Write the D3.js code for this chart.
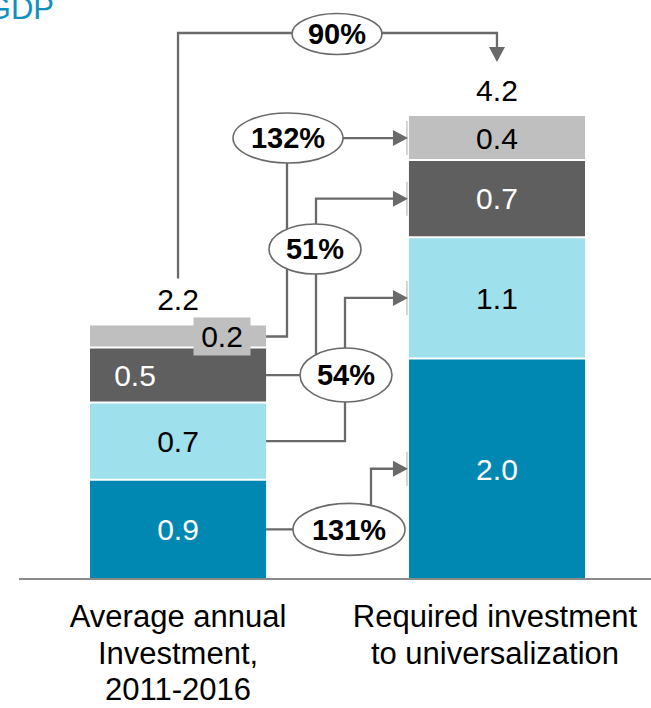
<!DOCTYPE html>
<html>
<head>
<meta charset="utf-8">
<script src="https://cdn.jsdelivr.net/npm/d3@7"></script>
<style>
  html, body { margin: 0; padding: 0; background: #ffffff; }
  svg { display: block; font-family: "Liberation Sans", Arial, sans-serif; }
</style>
</head>
<body>
<svg id="chart" width="651" height="708"></svg>
<script>
// Investment, % of GDP: current average vs. required for universal coverage
const categories = ["Average annual|Investment,|2011-2016", "Required investment|to universalization"];
const segmentNames = ["Segment A", "Segment B", "Segment C", "Segment D"]; // bottom to top
const averageValues = [0.9, 0.7, 0.5, 0.2];
const requiredValues = [2.0, 1.1, 0.7, 0.4];
const totalLabels = ["2.2", "4.2"];
const growthLabels = ["131%", "54%", "51%", "132%"]; // per segment
const totalGrowthLabel = "90%";
const unitLabel = "GDP";

// Styling
const segmentColors = ["#0088b3", "#9ee0ec", "#5f5f5f", "#bfbfbf"];
const avgTextColors = ["#ffffff", "#000000", "#ffffff", "#000000"];
const reqTextColors = ["#ffffff", "#000000", "#ffffff", "#000000"];
const lineColor = "#6a6a6a";

const svg = d3.select("#chart");
const baseline = 579;

const x = d3.scaleBand().domain(categories).range([90, 585]).paddingInner(0.448).paddingOuter(0);
const y = d3.scaleLinear().domain([0, 4.2]).range([baseline, 116]);
const bw = x.bandwidth();

function stackOf(values) {
  let acc = 0;
  return values.map((v, i) => {
    const s = { i, v, y0: acc, y1: acc + v };
    acc += v;
    return s;
  });
}
const stacks = [stackOf(averageValues), stackOf(requiredValues)];
const textColors = [avgTextColors, reqTextColors];

// Unit title (runs past the left edge of the canvas)
svg.append("text")
  .attr("x", 54).attr("y", 19)
  .attr("text-anchor", "end")
  .attr("font-size", 31)
  .attr("fill", "#1190bd")
  .text(unitLabel);

// Bars
categories.forEach((cat, ci) => {
  const g = svg.append("g");
  const x0 = x(cat);
  g.selectAll("rect")
    .data(stacks[ci])
    .join("rect")
    .attr("x", x0)
    .attr("width", bw)
    .attr("y", d => y(d.y1))
    .attr("height", d => y(d.y0) - y(d.y1))
    .attr("fill", d => segmentColors[d.i]);
  // white separators between segments
  g.selectAll("line.sep")
    .data(stacks[ci].slice(0, -1))
    .join("line")
    .attr("class", "sep")
    .attr("x1", x0).attr("x2", x0 + bw)
    .attr("y1", d => y(d.y1)).attr("y2", d => y(d.y1))
    .attr("stroke", "#ffffff").attr("stroke-width", 2);
});

// Segment value labels
const fmt = d3.format(".1f");
categories.forEach((cat, ci) => {
  const cx = x(cat) + bw / 2;
  stacks[ci].forEach(d => {
    const cy = (y(d.y0) + y(d.y1)) / 2;
    let tx = cx;
    if (ci === 0 && d.i === 2) tx = x(cat) + 45;
    if (ci === 0 && d.i === 3) {
      tx = x(cat) + 132;
      svg.append("rect")
        .attr("x", tx - 28.5).attr("y", cy - 19)
        .attr("width", 57).attr("height", 38)
        .attr("fill", segmentColors[3]);
    }
    svg.append("text")
      .attr("x", tx).attr("y", cy)
      .attr("dy", "0.36em")
      .attr("text-anchor", "middle")
      .attr("font-size", 30)
      .attr("fill", textColors[ci][d.i])
      .text(fmt(d.v));
  });
});

// Totals above bars
const totals = [d3.sum(averageValues), d3.sum(requiredValues)];
categories.forEach((cat, ci) => {
  svg.append("text")
    .attr("x", x(cat) + bw / 2)
    .attr("y", y(totals[ci]) - 15)
    .attr("text-anchor", "middle")
    .attr("font-size", 30)
    .attr("fill", "#000000")
    .text(totalLabels[ci]);
});

// Baseline
svg.append("line")
  .attr("x1", 19).attr("x2", 651)
  .attr("y1", baseline).attr("y2", baseline)
  .attr("stroke", "#8a8a8a").attr("stroke-width", 2);

// Category labels
categories.forEach(cat => {
  const lines = cat.split("|");
  const t = svg.append("text")
    .attr("text-anchor", "middle")
    .attr("font-size", 31)
    .attr("fill", "#000000");
  lines.forEach((ln, li) => {
    t.append("tspan")
      .attr("x", x(cat) + bw / 2 - (cat === categories[1] ? 2 : 0))
      .attr("y", 627 + li * 36.5)
      .text(ln);
  });
});

// Connectors between matching segments
const leftEdge = x(categories[0]) + bw;
const rightEdge = x(categories[1]);
const tipX = rightEdge - 1;
const arrowLen = 15, arrowHalf = 8;
const segCenter = (ci, i) => (y(stacks[ci][i].y0) + y(stacks[ci][i].y1)) / 2;

// vertical route x and bubble placement for each segment connector
const connectorLayout = [
  { vx: 371, bx: 349, by: () => segCenter(0, 0), rx: 56, ry: 26 },
  { vx: 345, bx: 346, by: () => segCenter(0, 2), rx: 46, ry: 27 },
  { vx: 316, bx: 315, by: () => 249, rx: 46, ry: 25 },
  { vx: 287, bx: 288, by: () => segCenter(1, 3), rx: 55, ry: 25 }
];

const connG = svg.append("g");
const bubbleG = svg.append("g");

connectorLayout.forEach((c, i) => {
  const yl = segCenter(0, i);
  const yr = segCenter(1, i);
  const p = d3.path();
  p.moveTo(leftEdge, yl);
  p.lineTo(c.vx, yl);
  p.lineTo(c.vx, yr);
  p.lineTo(tipX - arrowLen + 1, yr);
  connG.append("path")
    .attr("d", p.toString())
    .attr("fill", "none")
    .attr("stroke", lineColor)
    .attr("stroke-width", 2.3);
  // small marker at the arrow tip
  connG.append("line")
    .attr("x1", tipX - 1).attr("x2", tipX - 1)
    .attr("y1", yr - 17).attr("y2", yr + 17)
    .attr("stroke", "#c8c8c8").attr("stroke-width", 1.5);
  connG.append("path")
    .attr("d", `M${tipX},${yr} L${tipX - arrowLen},${yr - arrowHalf} L${tipX - arrowLen},${yr + arrowHalf} Z`)
    .attr("fill", lineColor);

  bubbleG.append("ellipse")
    .attr("cx", c.bx).attr("cy", c.by())
    .attr("rx", c.rx).attr("ry", c.ry)
    .attr("fill", "#ffffff")
    .attr("stroke", lineColor).attr("stroke-width", 1.6);
  bubbleG.append("text")
    .attr("x", c.bx).attr("y", c.by())
    .attr("dy", "0.36em")
    .attr("text-anchor", "middle")
    .attr("font-size", 29)
    .attr("font-weight", "bold")
    .attr("fill", "#000000")
    .text(growthLabels[i]);
});

// Total growth connector
{
  const lx = x(categories[0]) + bw / 2;
  const rx = x(categories[1]) + bw / 2;
  const topY = 33;
  const startY = y(totals[0]) - 15 - 22 - 10;
  const endY = 62;
  const p = d3.path();
  p.moveTo(lx, startY);
  p.lineTo(lx, topY);
  p.lineTo(rx, topY);
  p.lineTo(rx, endY - arrowLen + 1);
  connG.append("path")
    .attr("d", p.toString())
    .attr("fill", "none")
    .attr("stroke", lineColor)
    .attr("stroke-width", 2.3);
  connG.append("path")
    .attr("d", `M${rx},${endY} L${rx - arrowHalf},${endY - arrowLen} L${rx + arrowHalf},${endY - arrowLen} Z`)
    .attr("fill", lineColor);
  bubbleG.append("ellipse")
    .attr("cx", 337).attr("cy", 34)
    .attr("rx", 45).attr("ry", 20.5)
    .attr("fill", "#ffffff")
    .attr("stroke", lineColor).attr("stroke-width", 1.6);
  bubbleG.append("text")
    .attr("x", 337).attr("y", 34)
    .attr("dy", "0.36em")
    .attr("text-anchor", "middle")
    .attr("font-size", 29)
    .attr("font-weight", "bold")
    .attr("fill", "#000000")
    .text(totalGrowthLabel);
}
</script>
</body>
</html>
